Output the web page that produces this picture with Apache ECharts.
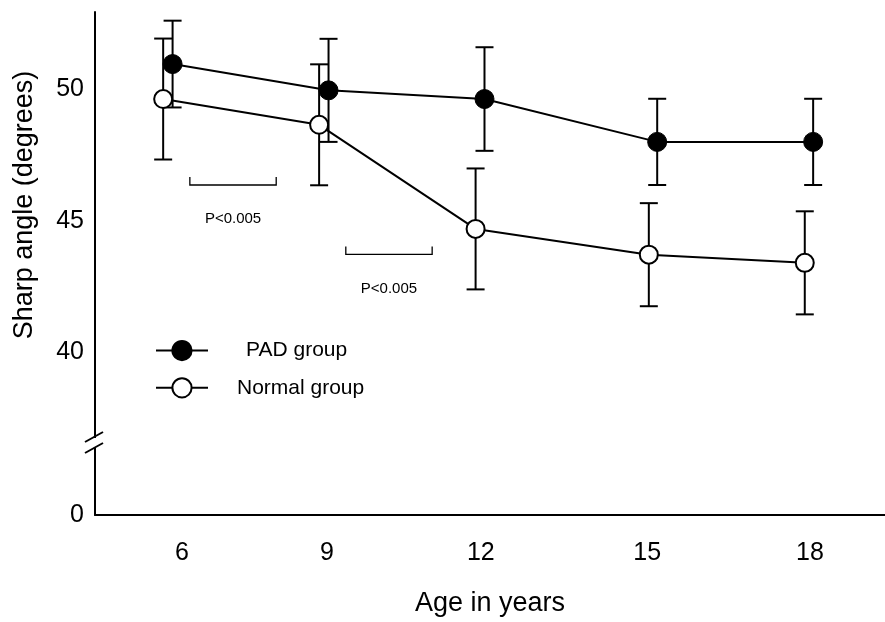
<!DOCTYPE html>
<html>
<head>
<meta charset="utf-8">
<script src="https://cdn.jsdelivr.net/npm/echarts@6/dist/echarts.min.js"></script>
<style>
html,body{margin:0;padding:0;background:#fff;}
#c{width:885px;height:622px;}
</style>
</head>
<body>
<div id="c"></div>
<script>
// ---- data ----
const ages = [6, 9, 12, 15, 18];
// horizontal position of the points (in years, as drawn: the groups are slightly staggered)
const padX = [5.82, 8.80, 11.78, 15.08, 18.06];
const normalX = [5.64, 8.62, 11.61, 14.92, 17.90];
const padMean = [50.96, 49.96, 49.63, 48.00, 48.00];
const padSD = [1.65, 1.96, 1.97, 1.64, 1.64];
const normalMean = [49.63, 48.65, 44.69, 43.71, 43.40];
const normalSD = [2.30, 2.30, 2.30, 1.96, 1.96];
const yTicks = [40, 45, 50];
const yZeroAt = 33.81;               // broken axis: "0" drawn at the bottom
const xTickAt = [6, 8.77, 11.71, 14.89, 18];   // tick label positions as drawn
const xTickText = ['6', '9', '12', '15', '18'];
const bracketFrom = [6.15, 9.13];
const bracketTo = [7.80, 10.78];
const bracketY = [46.36, 43.72];
const bracketText = ['P<0.005', 'P<0.005'];

const FONT = '"Liberation Sans", Arial, sans-serif';

const padLine = padX.map((x, i) => [x, padMean[i]]);
const normalLine = normalX.map((x, i) => [x, normalMean[i]]);
const padErr = padX.map((x, i) => [x, padMean[i] - padSD[i], padMean[i] + padSD[i]]);
const normalErr = normalX.map((x, i) => [x, normalMean[i] - normalSD[i], normalMean[i] + normalSD[i]]);
const brackets = bracketFrom.map((x, i) => [x, bracketTo[i], bracketY[i], bracketText[i]]);

function errRender(params, api) {
  const x = api.value(0);
  const lo = api.coord([x, api.value(1)]);
  const hi = api.coord([x, api.value(2)]);
  const hw = 9;
  const st = { stroke: '#000', lineWidth: 2 };
  return {
    type: 'group',
    children: [
      { type: 'line', shape: { x1: lo[0], y1: lo[1], x2: hi[0], y2: hi[1] }, style: st },
      { type: 'line', shape: { x1: lo[0] - hw, y1: lo[1], x2: lo[0] + hw, y2: lo[1] }, style: st },
      { type: 'line', shape: { x1: hi[0] - hw, y1: hi[1], x2: hi[0] + hw, y2: hi[1] }, style: st }
    ]
  };
}

function bracketRender(params, api) {
  const a = api.coord([api.value(0), api.value(2)]);
  const b = api.coord([api.value(1), api.value(2)]);
  const h = 8;
  return {
    type: 'group',
    children: [
      { type: 'polyline', shape: { points: [[a[0], a[1] - h], [a[0], a[1]], [b[0], b[1]], [b[0], b[1] - h]] },
        style: { stroke: '#000', lineWidth: 1.3, fill: null } },
      { type: 'text', x: (a[0] + b[0]) / 2, y: a[1] + 34,
        style: { text: brackets[params.dataIndex][3], fill: '#000', font: '15px ' + FONT, align: 'center', verticalAlign: 'middle' } }
    ]
  };
}

const chart = echarts.init(document.getElementById('c'));
chart.setOption({
  animation: false,
  backgroundColor: '#fff',
  grid: { left: 95, right: 0, top: 12, bottom: 106 },
  xAxis: {
    type: 'value',
    min: 4.3375, max: 19.433,
    name: 'Age in years',
    nameLocation: 'middle',
    nameGap: 75,
    nameTextStyle: { fontSize: 27, fontFamily: FONT, color: '#000' },
    axisLine: { show: true, lineStyle: { color: '#000', width: 2 } },
    axisTick: { show: false },
    splitLine: { show: false },
    axisLabel: {
      customValues: xTickAt,
      fontSize: 25, fontFamily: FONT, color: '#000', margin: 26,
      formatter: function (v) {
        let best = 0;
        xTickAt.forEach((t, i) => { if (Math.abs(t - v) < Math.abs(xTickAt[best] - v)) best = i; });
        return xTickText[best];
      }
    }
  },
  yAxis: {
    type: 'value',
    min: yZeroAt, max: 52.94,
    axisLine: { show: true, lineStyle: { color: '#000', width: 2 } },
    axisTick: { show: false },
    splitLine: { show: false },
    axisLabel: {
      customValues: [yZeroAt].concat(yTicks),
      fontSize: 25, fontFamily: FONT, color: '#000', margin: 11,
      formatter: function (v) { return v < yTicks[0] - 1 ? '0' : String(Math.round(v)); }
    }
  },
  legend: {
    orient: 'vertical',
    left: 155, top: 340, padding: 0,
    itemWidth: 52, itemHeight: 24, itemGap: 16,
    textStyle: { fontSize: 21, fontFamily: FONT, color: '#000',
      rich: { p: { fontSize: 21, fontFamily: FONT, color: '#000', padding: [0, 0, 0, 33] },
              n: { fontSize: 21, fontFamily: FONT, color: '#000', padding: [0, 0, 0, 24] } } },
    formatter: function (name) { return name === 'PAD group' ? '{p|' + name + '}' : '{n|' + name + '}'; },
    data: ['PAD group', 'Normal group'],
    selectedMode: false
  },
  graphic: [
    { type: 'rect', shape: { x: 90, y: 438, width: 10, height: 10 }, style: { fill: '#fff' }, z: 100 },
    { type: 'line', shape: { x1: 85, y1: 442, x2: 103, y2: 432 }, style: { stroke: '#000', lineWidth: 2 }, z: 101 },
    { type: 'line', shape: { x1: 85, y1: 453, x2: 103, y2: 443 }, style: { stroke: '#000', lineWidth: 2 }, z: 101 },
    { type: 'text', x: 25, y: 205, rotation: Math.PI / 2,
      style: { text: 'Sharp angle (degrees)', font: '27px ' + FONT, fill: '#000', align: 'center', verticalAlign: 'middle' } }
  ],
  series: [
    { type: 'custom', name: 'padErr', renderItem: errRender, data: padErr, z: 1, silent: true },
    { type: 'custom', name: 'normalErr', renderItem: errRender, data: normalErr, z: 1, silent: true },
    { type: 'custom', name: 'brackets', renderItem: bracketRender, data: brackets, z: 1, silent: true },
    { type: 'line', name: 'PAD group', data: padLine, z: 3,
      symbol: 'circle', symbolSize: 19, showAllSymbol: true,
      lineStyle: { color: '#000', width: 2 },
      itemStyle: { color: '#000', borderColor: '#000', borderWidth: 1 } },
    { type: 'line', name: 'Normal group', data: normalLine, z: 3,
      symbol: 'circle', symbolSize: 18, showAllSymbol: true,
      lineStyle: { color: '#000', width: 2 },
      itemStyle: { color: '#fff', borderColor: '#000', borderWidth: 2 } }
  ]
});
</script>
</body>
</html>
